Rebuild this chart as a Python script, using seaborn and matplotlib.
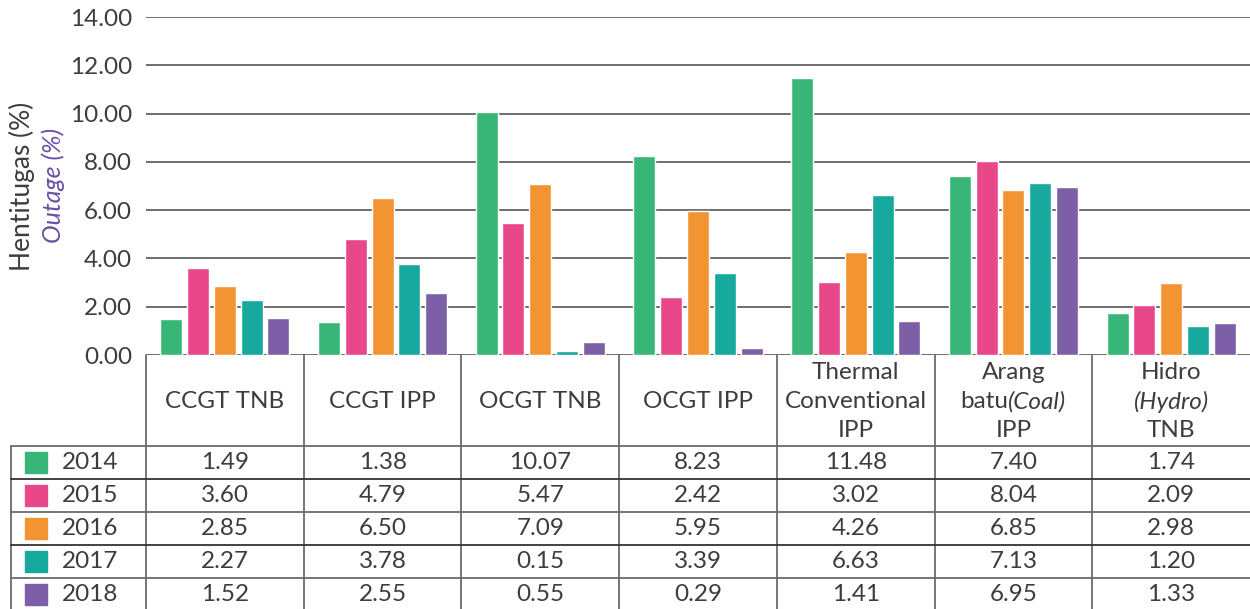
import pandas as pd
import matplotlib.pyplot as plt
import seaborn as sns
from matplotlib.lines import Line2D
from matplotlib.patches import Rectangle

# data
categories = ["CCGT TNB", "CCGT IPP", "OCGT TNB", "OCGT IPP",
              "Thermal Conventional IPP", "Arang batu(Coal) IPP", "Hidro (Hydro) TNB"]
years = ["2014", "2015", "2016", "2017", "2018"]
v2014 = [1.49, 1.38, 10.07, 8.23, 11.48, 7.40, 1.74]
v2015 = [3.60, 4.79, 5.47, 2.42, 3.02, 8.04, 2.09]
v2016 = [2.85, 6.50, 7.09, 5.95, 4.26, 6.85, 2.98]
v2017 = [2.27, 3.78, 0.15, 3.39, 6.63, 7.13, 1.20]
v2018 = [1.52, 2.55, 0.55, 0.29, 1.41, 6.95, 1.33]
yticks = [0, 2, 4, 6, 8, 10, 12, 14]

colors = ["#37B677", "#E8488A", "#F39433", "#17A89E", "#7D5FA8"]
txt = "#3d3d3d"
linec = "#6b6b6b"

series = [v2014, v2015, v2016, v2017, v2018]
rows = []
for y, vals in zip(years, series):
    for c, v in zip(categories, vals):
        rows.append({"cat": c, "year": y, "val": v})
df = pd.DataFrame(rows)

sns.set_theme(style="white")
plt.rcParams["font.family"] = ["Lato", "DejaVu Sans"]

W, H = 1250, 609
fs = 17.5
fig = plt.figure(figsize=(W / 100, H / 100), dpi=100)
ax = fig.add_axes([146 / W, 1 - 355 / H, 1 - 146 / W, (355 - 17) / H])

sns.barplot(data=df, x="cat", y="val", hue="year", palette=colors,
            width=0.85, gap=0.18, ax=ax, legend=False, saturation=1)
ax.set_ylim(0, 14)
ax.set_xlim(-0.5, len(categories) - 0.5)
ax.set_yticks(yticks)
ax.set_yticklabels([f"{t:.2f}" for t in yticks], fontsize=fs, color=txt)
ax.tick_params(axis="y", length=0, pad=10)
ax.set_xticks([])
ax.set_xlabel("")
ax.set_ylabel("")
for s in ax.spines.values():
    s.set_visible(False)
for t in yticks:
    ax.axhline(t, color="#555555", lw=1.2, zorder=0)

# y label (two lines, second italic purple)
fig.text(22 / W, 1 - 271 / H, "Hentitugas (%)", rotation=90, ha="center",
         va="bottom", fontsize=19, color=txt)
fig.text(53 / W, 1 - 185 / H, "Outage (%)", rotation=90, ha="center",
         va="center", fontsize=18, color="#6A4FA8", style="italic")


def fx(px):
    return px / W


def fy(py):
    return 1 - py / H


def hline(x0, x1, py, color=linec):
    fig.add_artist(Line2D([fx(x0), fx(x1)], [fy(py), fy(py)], color=color,
                          lw=1.3, transform=fig.transFigure))


def vline(px, y0, y1):
    fig.add_artist(Line2D([fx(px), fx(px)], [fy(y0), fy(y1)], color=linec,
                          lw=1.3, transform=fig.transFigure))


# column edges from the axes data scale
edges = [ax.transData.transform((i - 0.5, 0))[0] for i in range(len(categories) + 1)]
centers = [ax.transData.transform((i, 0))[0] for i in range(len(categories))]

head_top, head_bot = 355, 446
row_h = 33
for e in edges[:-1]:
    vline(e, head_top, H)
vline(11, head_bot, H)
hline(11, W, head_bot)
for r in range(1, len(years)):
    hline(11, W, head_bot + r * row_h, color="#333333" if r % 2 else linec)

# header labels
headers = [["CCGT TNB"], ["CCGT IPP"], ["OCGT TNB"], ["OCGT IPP"],
           ["Thermal", "Conventional", "IPP"],
           [("Arang", None), ("batu", "(Coal)"), ("IPP", None)],
           [("Hidro", None), (None, "(Hydro)"), ("TNB", None)]]
fig.canvas.draw()
rend = fig.canvas.get_renderer()
for cx, lines in zip(centers, headers):
    n = len(lines)
    mid = (head_top + head_bot) / 2 + 1
    for k, ln in enumerate(lines):
        py = mid + (k - (n - 1) / 2) * 29
        if isinstance(ln, str):
            fig.text(fx(cx), fy(py), ln, ha="center", va="center", fontsize=fs, color=txt)
        else:
            a, b = ln
            if a and b:
                ta = fig.text(0, 0, a, fontsize=fs)
                tb = fig.text(0, 0, b, fontsize=fs, style="italic")
                wa = ta.get_window_extent(rend).width
                wb = tb.get_window_extent(rend).width
                ta.remove()
                tb.remove()
                left = cx - (wa + wb) / 2
                fig.text(fx(left), fy(py), a, ha="left", va="center", fontsize=fs, color=txt)
                fig.text(fx(left + wa), fy(py), b, ha="left", va="center", fontsize=fs,
                         color=txt, style="italic")
            elif a:
                fig.text(fx(cx), fy(py), a, ha="center", va="center", fontsize=fs, color=txt)
            else:
                fig.text(fx(cx), fy(py), b, ha="center", va="center", fontsize=fs,
                         color=txt, style="italic")

# table body
for r, (y, vals, col) in enumerate(zip(years, series, colors)):
    py = head_bot + r * row_h + row_h / 2
    fig.add_artist(Rectangle((fx(25), fy(py + 10.5)), 22 / W, 21 / H, color=col,
                             transform=fig.transFigure))
    fig.text(fx(62), fy(py), y, ha="left", va="center", fontsize=fs, color=txt)
    for cx, v in zip(centers, vals):
        fig.text(fx(cx), fy(py), f"{v:.2f}", ha="center", va="center", fontsize=fs, color=txt)

fig.savefig("out.png", dpi=100)
